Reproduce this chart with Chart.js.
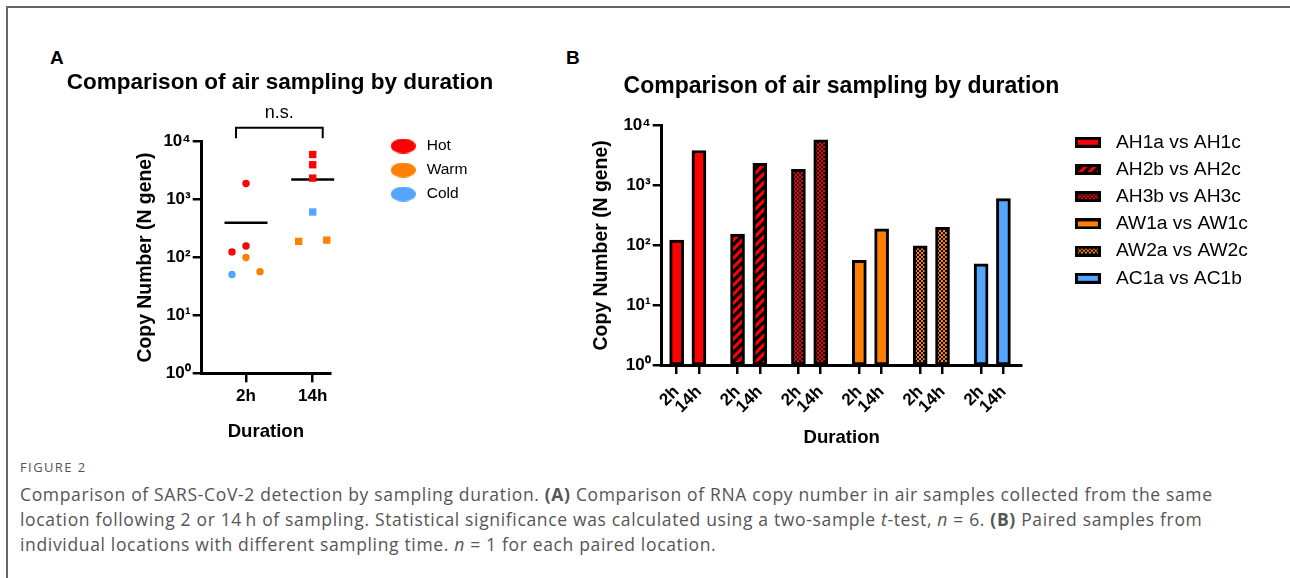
<!DOCTYPE html>
<html>
<head>
<meta charset="utf-8">
<script src="https://cdn.jsdelivr.net/npm/chart.js@4.4.1/dist/chart.umd.min.js"></script>
<style>
  html, body { margin: 0; padding: 0; background: #fff; }
  body { width: 1290px; height: 578px; position: relative; overflow: hidden; font-family: 'Liberation Sans', Arial, sans-serif; }
  #frame { position: absolute; left: 6px; top: 6px; width: 1300px; height: 600px; border-top: 2px solid #666; border-left: 2px solid #666; }
  .panel { position: absolute; font-weight: bold; font-size: 19px; line-height: 19px; color: #000; }
  canvas { position: absolute; }
  .fig { position: absolute; left: 20px; font-family: 'Open Sans', sans-serif; font-size: 13px; letter-spacing: 1.4px; color: #555; line-height: 1.2; white-space: nowrap; }
  .cap { position: absolute; left: 20px; font-family: 'Open Sans', sans-serif; font-size: 17.5px; letter-spacing: 0.66px; color: #555; line-height: 1.2; white-space: nowrap; }
</style>
</head>
<body>
<div id="frame"></div>
<div class="panel" style="left:50px;top:48px;">A</div>
<div class="panel" style="left:566px;top:48px;">B</div>
<canvas id="cA" width="540" height="450" style="left:0;top:0;"></canvas>
<canvas id="cB" width="897" height="460" style="left:393px;top:0;"></canvas>
<div class="fig" style="top:460px;">FIGURE 2</div>
<div class="cap" style="top:484px;">Comparison of SARS-CoV-2 detection by sampling duration. <b>(A)</b> Comparison of RNA copy number in air samples collected from the same</div>
<div class="cap" style="top:509px;">location following 2 or 14&#8201;h of sampling. Statistical significance was calculated using a two-sample <i>t</i>-test, <i>n</i> = 6. <b>(B)</b> Paired samples from</div>
<div class="cap" style="top:534px;">individual locations with different sampling time. <i>n</i> = 1 for each paired location.</div>

<script>
// ---------------- data ----------------
const durations = ['2h', '14h'];
const logTicks = [1, 10, 100, 1000, 10000];

// Panel A: copy numbers per temperature group and duration
const tempLabels = ['Hot', 'Warm', 'Cold'];
const hot2h = [1900, 125, 158];
const hot14h = [6000, 4000, 2350];
const warm2h = [100, 57];
const warm14h = [190, 200];
const cold2h = [51];
const cold14h = [610];
// column jitter slot of each point as placed in the figure (hot, warm, cold order)
const slots2h = [0, -1, 0, 0, 1, -1];
const slots14h = [0, 0, 0, -1, 1, 0];

// Panel B: paired locations
const pairLabels = ['AH1a vs AH1c', 'AH2b vs AH2c', 'AH3b vs AH3c', 'AW1a vs AW1c', 'AW2a vs AW2c', 'AC1a vs AC1b'];
const pair2h = [123, 155, 1870, 56, 98, 49];
const pair14h = [3850, 2350, 5800, 188, 200, 605];

// ---------------- styles ----------------
const RED = '#ff0000', ORANGE = '#ff8000', BLUE = '#55a5ff';
const tempColors = [RED, ORANGE, BLUE];
const pairColors = [RED, RED, RED, ORANGE, ORANGE, BLUE];
const pairFills = ['solid', 'stripes', 'checker', 'solid', 'checker', 'solid'];
const FONT = "'Liberation Sans', Arial, Helvetica, sans-serif";
const SUP = ['\u2070', '\u00b9', '\u00b2', '\u00b3', '\u2074'];

Chart.defaults.font.family = FONT;
Chart.defaults.color = '#000';
Chart.defaults.animation = false;

function makeFill(ctx, kind, color) {
  if (kind === 'solid') return color;
  const t = document.createElement('canvas');
  const c = t.getContext('2d');
  if (kind === 'stripes') {
    t.width = 9; t.height = 9;
    c.fillStyle = color; c.fillRect(0, 0, 9, 9);
    c.strokeStyle = '#000'; c.lineWidth = 3.2;
    c.beginPath();
    c.moveTo(-1, 10); c.lineTo(10, -1);
    c.moveTo(-5, 5); c.lineTo(5, -5);
    c.moveTo(4, 14); c.lineTo(14, 4);
    c.stroke();
  } else {
    t.width = 4; t.height = 4;
    c.fillStyle = '#000'; c.fillRect(0, 0, 4, 4);
    c.fillStyle = color; c.fillRect(0, 0, 2, 2); c.fillRect(2, 2, 2, 2);
  }
  return ctx.createPattern(t, 'repeat');
}

function ellipseMarker(color) {
  const m = document.createElement('canvas');
  m.width = 25; m.height = 15;
  const c = m.getContext('2d');
  c.fillStyle = color;
  c.beginPath(); c.ellipse(12.5, 7.5, 12.5, 7.5, 0, 0, Math.PI * 2); c.fill();
  return m;
}

function boxMarker(kind, color) {
  const m = document.createElement('canvas');
  m.width = 26; m.height = 11;
  const c = m.getContext('2d');
  c.fillStyle = '#000'; c.fillRect(0, 0, 26, 11);
  c.fillStyle = makeFill(c, kind, color);
  c.fillRect(3, 3, 20, 5);
  return m;
}

function logTickCallback(v) {
  const e = Math.round(Math.log10(v));
  return '10' + SUP[e];
}

// invisible layout boxes that reserve horizontal room on the right of a chart
function gapAxis(weight, widthFn) {
  return {
    type: 'linear', position: 'right', display: true, weight: weight,
    grid: {display: false}, border: {display: false}, ticks: {display: false},
    afterFit: s => { s.width = Math.max(0, widthFn(s)); }
  };
}

const axisCommon = {
  border: {display: true, color: '#000', width: 3},
  grid: {display: true, drawOnChartArea: false, drawTicks: true, tickLength: 9, color: '#000', lineWidth: 2.5}
};

// ---------------- Panel A ----------------
const J = 0.21; // jitter step in x units
const tempSeries = [[hot2h, hot14h], [warm2h, warm14h], [cold2h, cold14h]];
let slotIdx2h = 0, slotIdx14h = 0;
const dsA = tempLabels.map((lab, k) => {
  const [a, b] = tempSeries[k];
  const pts = [], styles = [];
  a.forEach(v => { pts.push({x: 1 + slots2h[slotIdx2h++] * J, y: v}); styles.push('circle'); });
  b.forEach(v => { pts.push({x: 2 + slots14h[slotIdx14h++] * J, y: v}); styles.push('rect'); });
  return {
    label: lab, data: pts, pointStyle: styles,
    pointRadius: styles.map(s => s === 'circle' ? 3.7 : 5.2),
    backgroundColor: tempColors[k], borderColor: tempColors[k], pointBorderWidth: 0,
    clip: false
  };
});
const all2h = [].concat(hot2h, warm2h, cold2h);
const all14h = [].concat(hot14h, warm14h, cold14h);
const mean = arr => arr.reduce((s, v) => s + v, 0) / arr.length;
dsA.push({
  label: 'Mean', data: [{x: 1, y: mean(all2h)}, {x: 2, y: mean(all14h)}],
  pointStyle: 'line', pointRadius: 21.5, pointBorderWidth: 2.5, borderColor: '#000', backgroundColor: '#000', clip: false
});

const bracketPlugin = {
  id: 'nsBracket',
  afterDraw(chart) {
    const {ctx, chartArea} = chart;
    const xs = chart.scales.x;
    const x1 = xs.getPixelForValue(1) - 10, x2 = xs.getPixelForValue(2) + 10;
    const y = chartArea.top - 14, yLeg = chartArea.top - 3.5;
    ctx.save();
    ctx.strokeStyle = '#000'; ctx.lineWidth = 2;
    ctx.beginPath(); ctx.moveTo(x1, yLeg); ctx.lineTo(x1, y); ctx.lineTo(x2, y); ctx.lineTo(x2, yLeg); ctx.stroke();
    ctx.fillStyle = '#000'; ctx.font = '18px ' + FONT; ctx.textAlign = 'center'; ctx.textBaseline = 'alphabetic';
    ctx.fillText('n.s.', (x1 + x2) / 2, y - 9.7);
    ctx.restore();
  }
};

// canvas-A geometry (canvas px)
const A_W = 540, A_PADL = 60, A_PADR = 40;
const A_CHART_RIGHT = 330, A_LEGEND_LEFT = 378.95;

new Chart(document.getElementById('cA'), {
  type: 'scatter',
  data: {datasets: dsA},
  plugins: [bracketPlugin],
  options: {
    responsive: false,
    layout: {padding: {left: A_PADL, right: A_PADR, top: 50, bottom: 5}},
    plugins: {
      tooltip: {enabled: false},
      title: {
        display: true, text: 'Comparison of air sampling by duration', color: '#000',
        font: {size: 22.5, weight: 'bold', lineHeight: 1.2}, padding: {top: 19, bottom: 45.7}
      },
      legend: {
        display: true, position: 'right', align: 'start', maxWidth: 1000,
        title: {display: true, text: ' ', font: {size: 10, lineHeight: 1}, padding: {top: 69.75, bottom: 0}},
        labels: {
          color: '#000', font: {size: 15.5}, padding: 8.5, usePointStyle: true, pointStyleWidth: 31.5, boxHeight: 15.5,
          generateLabels(chart) {
            return chart.data.datasets.map((ds, i) => ({ds, i})).filter(o => o.ds.label !== 'Mean').map(({ds, i}) => ({
              text: ds.label, fillStyle: ds.backgroundColor, strokeStyle: ds.backgroundColor, lineWidth: 0,
              pointStyle: ellipseMarker(ds.backgroundColor), hidden: false, datasetIndex: i, fontColor: '#000'
            }));
          }
        }
      }
    },
    scales: {
      x: Object.assign({}, axisCommon, {
        type: 'linear', position: 'bottom', min: 0.336, max: 2.259,
        afterBuildTicks: s => { s.ticks = durations.map((d, i) => ({value: i + 1})); },
        afterFit: s => { s.height = 71.7; },
        ticks: {callback: (v, i) => durations[i], font: {size: 17, weight: 'bold'}, padding: 4.2, maxRotation: 0},
        title: {display: true, text: 'Duration', color: '#000', font: {size: 18.6, weight: 'bold', lineHeight: 1.2}, padding: {top: 0, bottom: 2.1}}
      }),
      y: Object.assign({}, axisCommon, {
        type: 'logarithmic', position: 'left', min: 1, max: 10000,
        afterBuildTicks: s => { s.ticks = logTicks.map(v => ({value: v})); },
        afterFit: s => { s.width = 201.7 - A_PADL; },
        ticks: {callback: logTickCallback, font: {size: 17, weight: 'bold'}, padding: 2},
        title: {display: true, text: 'Copy Number (N gene)', color: '#000', font: {size: 19.4, weight: 'bold', lineHeight: 1.2}, padding: {top: 146 - A_PADL - 11.64, bottom: 0}}
      }),
      gapIn: gapAxis(0, () => A_LEGEND_LEFT - A_CHART_RIGHT),
      gapOut: gapAxis(2000, s => (A_W - A_PADR) - A_LEGEND_LEFT - (s.chart.legend ? s.chart.legend.width : 0))
    }
  }
});

// ---------------- Panel B ----------------
const B_LEFT = 393; // page x of canvas B
const B_W = 897, B_PADL = 0, B_PADR = 0;
const B_CHART_LEFT = 661.7 - B_LEFT, B_CHART_RIGHT = 1021.7 - B_LEFT, B_LEGEND_LEFT = 1061.3 - B_LEFT;
const GROUP_STEP = 2.73; // x units between the first bars of consecutive pairs
const ctxB = document.getElementById('cB').getContext('2d');
const barValues = [pair2h, pair14h];
const dsB = pairLabels.map((lab, g) => ({
  label: lab,
  data: durations.map((d, j) => ({x: g * GROUP_STEP + j, y: barValues[j][g]})),
  backgroundColor: makeFill(ctxB, pairFills[g], pairColors[g]),
  borderColor: '#000', borderWidth: 3, borderSkipped: false,
  barThickness: 14, grouped: false
}));
const tickPosB = [];
pairLabels.forEach((lab, g) => durations.forEach((d, j) => tickPosB.push(g * GROUP_STEP + j)));

new Chart(ctxB, {
  type: 'bar',
  data: {datasets: dsB},
  options: {
    responsive: false,
    layout: {padding: {left: B_PADL, right: B_PADR, top: 40, bottom: 5}},
    plugins: {
      tooltip: {enabled: false},
      title: {
        display: true, text: 'Comparison of air sampling by duration', color: '#000',
        font: {size: 23, weight: 'bold', lineHeight: 1.2}, padding: {top: 33.2, bottom: 24.9}
      },
      legend: {
        display: true, position: 'right', align: 'start', maxWidth: 1000,
        title: {display: true, text: ' ', font: {size: 10, lineHeight: 1}, padding: {top: 74.7, bottom: 0}},
        labels: {
          color: '#000', font: {size: 19.2}, padding: 8, usePointStyle: true, pointStyleWidth: 37.1, boxHeight: 19.2,
          generateLabels(chart) {
            return chart.data.datasets.map((ds, i) => ({
              text: ds.label, fillStyle: ds.backgroundColor, strokeStyle: '#000', lineWidth: 0,
              pointStyle: boxMarker(pairFills[i], pairColors[i]), hidden: false, datasetIndex: i, fontColor: '#000'
            }));
          }
        }
      }
    },
    scales: {
      x: Object.assign({}, axisCommon, {
        type: 'linear', position: 'bottom', min: -0.67, max: 5 * GROUP_STEP + 1 + 0.82, offset: false,
        grid: Object.assign({}, axisCommon.grid, {offset: false}),
        afterBuildTicks: s => { s.ticks = tickPosB.map(v => ({value: v})); },
        afterFit: s => { s.height = 90; },
        ticks: {callback: (v, i) => durations[i % durations.length], font: {size: 17, weight: 'bold'}, padding: 8,
                minRotation: 45, maxRotation: 45, autoSkip: false},
        title: {display: true, text: 'Duration', color: '#000', font: {size: 18.6, weight: 'bold', lineHeight: 1.2}, padding: {top: 0, bottom: 5.85}}
      }),
      y: Object.assign({}, axisCommon, {
        type: 'logarithmic', position: 'left', min: 1, max: 10000,
        afterBuildTicks: s => { s.ticks = logTicks.map(v => ({value: v})); },
        afterFit: s => { s.width = B_CHART_LEFT - B_PADL; },
        ticks: {callback: logTickCallback, font: {size: 17, weight: 'bold'}, padding: 2},
        title: {display: true, text: 'Copy Number (N gene)', color: '#000', font: {size: 19.4, weight: 'bold', lineHeight: 1.2}, padding: {top: (602 - B_LEFT) - B_PADL - 11.64, bottom: 0}}
      }),
      gapIn: gapAxis(0, () => B_LEGEND_LEFT - B_CHART_RIGHT),
      gapOut: gapAxis(2000, s => (B_W - B_PADR) - B_LEGEND_LEFT - (s.chart.legend ? s.chart.legend.width : 0))
    }
  }
});
</script>
</body>
</html>
